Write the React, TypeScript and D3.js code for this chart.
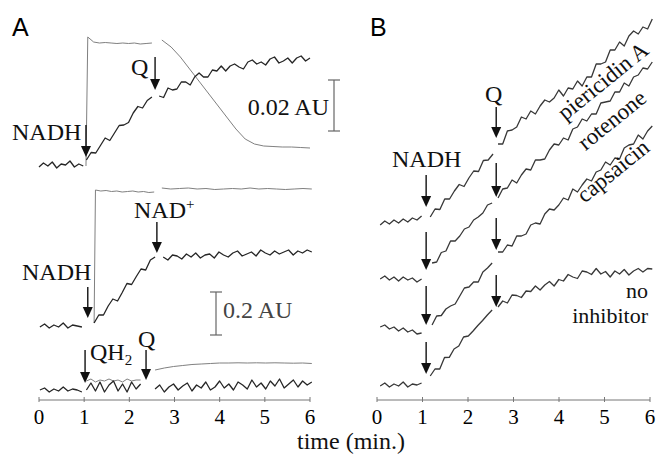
import React from "react";
import * as d3 from "d3";

type Seg = { t0: number; t1: number; v: number[] };
type Arrow = { t: number; from: number; to: number };

const timeTicks = [0, 1, 2, 3, 4, 5, 6];

// panel A, top (0.02 AU): absorbance (dark) and fluorescence (light)
const aTopDark: Seg[] = [
  { t0: 0, t1: 0.98, v: [23.3, 23.7, 23.4, 23.8, 23.2, 23.6, 23.5, 23.9, 23.3, 23.6, 23.4] },
  { t0: 1.05, t1: 2.5, v: [24.0, 24.75, 24.7, 25.45, 26.2, 25.95, 26.7, 27.45, 27.5, 27.75, 28.7, 29.35, 29.2, 29.95, 30.3] },
  { t0: 2.66, t1: 6.0, v: [30.4, 30.25, 31.2, 31.0, 31.1, 31.8, 31.8, 31.5, 32.3, 32.7, 32.3, 32.3, 33.0, 32.9, 33.4, 32.9, 33.4, 33.6, 33.3, 33.1, 33.8, 34.0, 33.6, 33.8, 33.5, 34.1, 34.3, 33.7, 33.9, 34.2, 33.7, 34.2, 34.4, 33.9, 34.2] },
];
const aTopLight: Seg[] = [
  { t0: 1.04, t1: 1.08, v: [23.4, 36.3] },
  { t0: 1.08, t1: 2.5, v: [36.3, 35.8, 35.7, 35.75, 35.7, 35.65, 35.7, 35.65, 35.7, 35.6, 35.65, 35.7] },
  { t0: 2.72, t1: 6.0, v: [36.0, 35.3, 34.3, 33.1, 31.9, 30.7, 29.5, 28.3, 27.1, 26.1, 25.6, 25.4, 25.35, 25.3, 25.3, 25.25, 25.2] },
];

// panel A, middle (0.2 AU)
const aMidDark: Seg[] = [
  { t0: 0.02, t1: 0.95, v: [7.3, 7.6, 7.2, 7.5, 7.3, 7.7, 7.2, 7.5, 7.4, 7.3] },
  { t0: 1.22, t1: 2.57, v: [7.7, 8.5, 8.5, 9.4, 10.1, 9.9, 10.75, 11.65, 11.55, 12.35, 13.1, 13.0, 14.0, 14.3] },
  { t0: 2.75, t1: 6.04, v: [14.3, 14.0, 14.5, 14.4, 14.1, 14.6, 14.3, 14.7, 14.2, 14.5, 14.6, 14.2, 14.8, 14.5, 14.3, 14.7, 14.9, 14.4, 14.6, 14.8, 14.4, 15.0, 14.7, 14.5, 14.9, 14.6, 14.8, 15.0, 14.5, 14.9, 14.7, 15.0, 14.8] },
];
const aMidLight: Seg[] = [
  { t0: 1.22, t1: 1.25, v: [7.7, 21.0] },
  { t0: 1.25, t1: 2.55, v: [21.0, 20.9, 20.95, 20.85, 20.9, 20.8, 20.85, 20.9, 20.8, 20.85, 20.75, 20.8] },
  { t0: 2.72, t1: 6.04, v: [21.2, 21.1, 21.15, 21.2, 21.1, 21.15, 21.05, 21.1, 21.15, 21.1, 21.2, 21.1, 21.15, 21.1, 21.05, 21.1, 21.15, 21.1] },
];

// panel A, bottom (QH2)
const aBotDark: Seg[] = [
  { t0: 0.02, t1: 0.95, v: [1.0, 1.2, 0.8, 1.1, 0.9, 1.3, 0.9, 1.1, 1.0, 0.8] },
  { t0: 1.05, t1: 2.25, v: [1.0, 1.7, 0.9, 1.8, 0.8, 1.5, 1.9, 0.9, 1.6, 0.8, 1.8, 1.1, 1.6] },
  { t0: 2.57, t1: 6.04, v: [1.1, 1.5, 0.8, 1.3, 1.6, 1.0, 1.4, 1.7, 0.9, 1.5, 1.2, 1.8, 1.0, 1.3, 1.9, 1.2, 1.6, 1.0, 1.8, 1.5, 1.1, 2.0, 1.3, 1.7, 1.1, 1.9, 1.4, 2.1, 1.2, 1.6, 2.0, 1.3, 1.9, 1.5, 1.8] },
];
const aBotLight: Seg[] = [
  { t0: 1.05, t1: 2.25, v: [1.9, 2.1, 1.8, 2.0, 1.9, 2.1, 1.9, 2.0, 1.8, 2.1, 1.9, 2.0, 2.0] },
  { t0: 2.57, t1: 6.04, v: [3.0, 3.2, 3.35, 3.45, 3.55, 3.6, 3.65, 3.7, 3.7, 3.72, 3.7, 3.72, 3.7, 3.72, 3.7, 3.68, 3.7, 3.65] },
];

// panel B traces
const bPiericidin: Seg[] = [
  { t0: 0.07, t1: 0.98, v: [17.5, 17.9, 17.6, 18.0, 17.7, 18.1, 17.8, 18.2, 18.0, 18.4] },
  { t0: 1.17, t1: 2.55, v: [18.3, 19.1, 19.05, 20.1, 20.1, 20.9, 21.55, 21.35, 22.2, 22.9, 22.85, 23.95, 24.0, 24.6] },
  { t0: 2.66, t1: 6.05, v: [25.6, 25.6, 26.9, 27.0, 27.3, 28.3, 28.1, 28.9, 28.6, 29.4, 30.0, 29.8, 30.2, 31.0, 30.4, 31.2, 31.1, 31.9, 31.4, 32.3, 32.3, 33.6, 33.6, 33.8, 35.0, 35.0, 35.8, 35.4, 36.4, 36.9, 36.6, 37.3, 37.1, 38.1] },
];
const bRotenone: Seg[] = [
  { t0: 0.07, t1: 0.98, v: [12.1, 12.4, 12.0, 12.3, 11.9, 12.3, 12.0, 12.2, 11.8, 12.1] },
  { t0: 1.21, t1: 2.53, v: [13.7, 13.8, 14.75, 14.9, 15.9, 15.9, 16.4, 17.1, 17.3, 18.0, 18.3, 18.7, 19.5, 19.7] },
  { t0: 2.66, t1: 6.05, v: [20.2, 21.1, 21.2, 22.0, 21.7, 22.5, 23.1, 23.0, 24.0, 24.0, 24.1, 25.0, 25.6, 25.5, 26.2, 26.0, 27.1, 27.3, 28.1, 27.9, 28.6, 28.6, 29.7, 29.8, 29.9, 30.8, 30.8, 31.7, 31.4, 32.3, 32.5, 33.2, 33.1, 33.8] },
];
const bCapsaicin: Seg[] = [
  { t0: 0.07, t1: 0.98, v: [7.3, 7.5, 7.1, 7.3, 6.9, 7.2, 6.8, 7.0, 6.6, 6.7] },
  { t0: 1.21, t1: 2.53, v: [7.5, 8.4, 8.45, 9.1, 9.4, 9.6, 10.4, 11.2, 11.3, 11.8, 11.8, 12.8, 13.2, 13.7] },
  { t0: 2.66, t1: 6.05, v: [14.8, 14.8, 15.5, 15.4, 16.4, 16.4, 16.6, 17.5, 17.7, 17.6, 18.6, 19.1, 19.0, 19.5, 20.2, 20.0, 21.1, 20.8, 21.5, 22.1, 21.9, 22.8, 23.0, 23.8, 23.5, 24.2, 24.1, 25.2, 25.5, 25.6, 26.5, 26.1, 26.9, 27.4] },
];
const bNoInhibitor: Seg[] = [
  { t0: 0.07, t1: 0.98, v: [1.4, 1.7, 1.3, 1.6, 1.4, 1.8, 1.3, 1.6, 1.5, 1.7] },
  { t0: 1.17, t1: 2.53, v: [2.4, 3.1, 3.1, 4.25, 4.26, 5.1, 5.4, 6.3, 6.4, 6.9, 7.45, 7.95, 8.5, 9.0] },
  { t0: 2.66, t1: 6.05, v: [9.3, 9.9, 9.7, 10.5, 10.45, 10.25, 10.9, 10.85, 11.4, 11.0, 11.5, 11.85, 11.4, 12.05, 11.9, 12.55, 12.3, 12.15, 12.9, 12.8, 12.55, 13.15, 12.6, 12.85, 12.3, 12.9, 12.6, 13.05, 12.5, 12.9, 13.15, 12.8, 13.15, 13.1] },
];

// addition arrows (time, signal at tail, signal at tip)
const arrowsA: Arrow[] = [
  { t: 1.04, from: 27.5, to: 24.3 },
  { t: 2.57, from: 34.3, to: 31.0 },
  { t: 1.08, from: 11.3, to: 8.2 },
  { t: 2.61, from: 17.8, to: 14.7 },
  { t: 1.02, from: 5.0, to: 1.7 },
  { t: 2.37, from: 5.0, to: 2.0 },
];
const arrowsB: Arrow[] = [
  { t: 1.08, from: 22.5, to: 19.3 },
  { t: 1.08, from: 16.8, to: 13.0 },
  { t: 1.08, from: 11.4, to: 7.5 },
  { t: 1.08, from: 5.8, to: 2.6 },
  { t: 2.62, from: 29.3, to: 26.2 },
  { t: 2.62, from: 23.7, to: 20.3 },
  { t: 2.62, from: 18.2, to: 15.0 },
  { t: 2.62, from: 12.5, to: 9.3 },
];

const serif = "Liberation Serif, Times New Roman, Times, serif";
const sans = "Liberation Sans, Arial, sans-serif";

const xA = d3.scaleLinear().domain([0, 6]).range([39, 310]);
const xB = d3.scaleLinear().domain([0, 6]).range([377, 650]);
const y = d3.scaleLinear().domain([0, 40]).range([400, 0]);

const points = (s: Seg): [number, number][] =>
  s.v.map((v, i) => [s.t0 + ((s.t1 - s.t0) * i) / (s.v.length - 1), v]);

const Trace = ({ segs, x, color, width = 1 }: { segs: Seg[]; x: d3.ScaleLinear<number, number>; color: string; width?: number }) => {
  const line = d3
    .line<[number, number]>()
    .x((d) => x(d[0]))
    .y((d) => y(d[1]));
  return (
    <g>
      {segs.map((s, i) => (
        <path key={i} d={line(points(s)) || ""} fill="none" stroke={color} strokeWidth={width} strokeLinejoin="round" />
      ))}
    </g>
  );
};

const Arrows = ({ data, x }: { data: Arrow[]; x: d3.ScaleLinear<number, number> }) => (
  <g>
    {data.map((a, i) => {
      const cx = x(a.t);
      const tip = y(a.to);
      return (
        <g key={i}>
          <line x1={cx} x2={cx} y1={y(a.from)} y2={tip - 8} stroke="#111" strokeWidth={1.4} />
          <path d={`M${cx - 5},${tip - 11} L${cx + 5},${tip - 11} L${cx},${tip} Z`} fill="#111" />
        </g>
      );
    })}
  </g>
);

const Axis = ({ x }: { x: d3.ScaleLinear<number, number> }) => (
  <g>
    <line x1={x(0)} x2={x(6)} y1={400} y2={400} stroke="#777" strokeWidth={1} />
    {timeTicks.map((t) => (
      <g key={t}>
        <line x1={x(t)} x2={x(t)} y1={397} y2={402} stroke="#777" strokeWidth={1} />
        <text x={x(t)} y={424} textAnchor="middle" fontSize={21} fontFamily={serif}>
          {t}
        </text>
      </g>
    ))}
  </g>
);

const ScaleBar = ({ x, y1, y2 }: { x: number; y1: number; y2: number }) => (
  <g stroke="#666" strokeWidth={1.2}>
    <line x1={x} x2={x} y1={y1} y2={y2} />
    <line x1={x - 6} x2={x + 6} y1={y1} y2={y1} />
    <line x1={x - 6} x2={x + 6} y1={y2} y2={y2} />
  </g>
);

export default function App() {
  const dark = "#262626";
  const light = "#808080";
  const bColor = "#383838";
  return (
    <svg width={657} height={455} style={{ position: "absolute", left: 0, top: 0, background: "#fff" }}>
      <text x={12} y={36} fontSize={25} fontFamily={sans}>A</text>
      <text x={370} y={36} fontSize={25} fontFamily={sans}>B</text>

      {/* panel A */}
      <Trace segs={aTopLight} x={xA} color={light} />
      <Trace segs={aTopDark} x={xA} color={dark} width={1.3} />
      <Trace segs={aMidLight} x={xA} color={light} />
      <Trace segs={aMidDark} x={xA} color={dark} width={1.3} />
      <Trace segs={aBotLight} x={xA} color={light} />
      <Trace segs={aBotDark} x={xA} color={dark} width={1.3} />
      <Arrows data={arrowsA} x={xA} />
      <Axis x={xA} />

      <g fontFamily={serif} fontSize={24} fill="#111">
        <text x={12} y={140}>NADH</text>
        <text x={131} y={75}>Q</text>
        <text x={22} y={280}>NADH</text>
        <text x={134} y={218}>
          NAD<tspan fontSize={15} dy={-9}>+</tspan>
        </text>
        <text x={90} y={360}>
          QH<tspan fontSize={15} dy={5}>2</tspan>
        </text>
        <text x={138} y={347}>Q</text>
        <text x={329} y={115} textAnchor="end">0.02 AU</text>
        <text x={223} y={318} fill="#444">0.2 AU</text>
        <text x={297} y={449}>time (min.)</text>
      </g>
      <ScaleBar x={334} y1={80} y2={131} />
      <ScaleBar x={216} y1={292} y2={335} />

      {/* panel B */}
      <Trace segs={bPiericidin} x={xB} color={bColor} width={1.3} />
      <Trace segs={bRotenone} x={xB} color={bColor} width={1.3} />
      <Trace segs={bCapsaicin} x={xB} color={bColor} width={1.3} />
      <Trace segs={bNoInhibitor} x={xB} color={bColor} width={1.3} />
      <Arrows data={arrowsB} x={xB} />
      <Axis x={xB} />

      <g fontFamily={serif} fontSize={24} fill="#111">
        <text x={392} y={167}>NADH</text>
        <text x={485} y={102}>Q</text>
      </g>
      <g fontFamily={serif} fontSize={23} fill="#111">
        <text x={603} y={81} textAnchor="middle" dominantBaseline="central" transform="rotate(-39 603 81)">piericidin A</text>
        <text x={612} y={120} textAnchor="middle" dominantBaseline="central" transform="rotate(-39 612 120)">rotenone</text>
        <text x={613} y={171} textAnchor="middle" dominantBaseline="central" transform="rotate(-39 613 171)">capsaicin</text>
      </g>
      <g fontFamily={serif} fontSize={22} fill="#111">
        <text x={648} y={298} textAnchor="end">no</text>
        <text x={648} y={323} textAnchor="end">inhibitor</text>
      </g>
    </svg>
  );
}
